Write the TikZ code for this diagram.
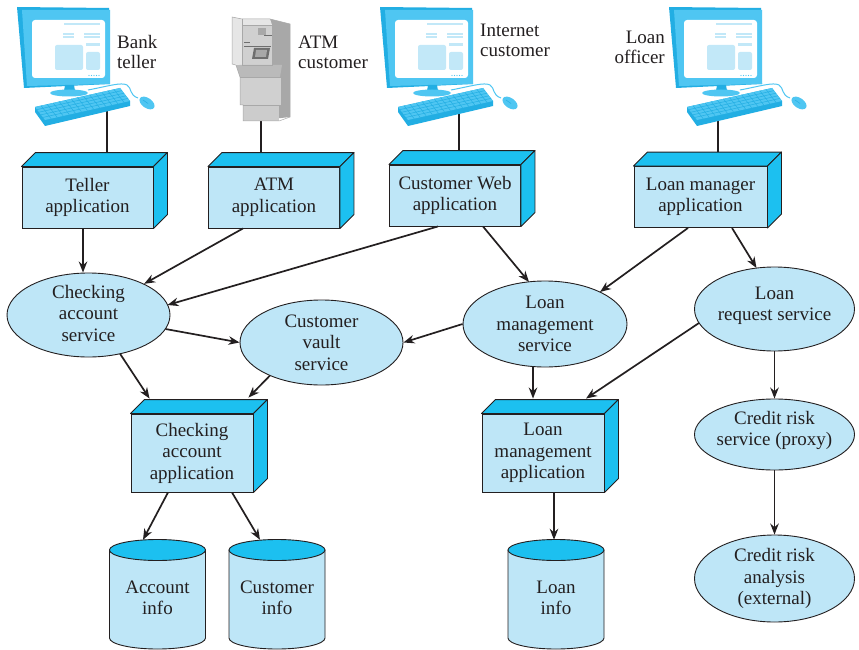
\documentclass[tikz,border=0pt]{standalone}
\usepackage{fontspec}
\setmainfont{Liberation Serif}
\usetikzlibrary{arrows.meta,shapes.geometric,calc}

\definecolor{ink}{HTML}{231F20}
\definecolor{paleblue}{HTML}{BEE6F7}
\definecolor{cyanface}{HTML}{1CC0F0}
\definecolor{pcfront}{HTML}{4FC6F2}
\definecolor{pcside}{HTML}{22AEE3}
\definecolor{pcpale}{HTML}{C2E8F8}
\definecolor{atmlight}{HTML}{E6E6E6}
\definecolor{atmmid}{HTML}{D0D0D0}
\definecolor{atmdark}{HTML}{A8A8A8}
\definecolor{atmdeep}{HTML}{6E6E6E}

\tikzset{
  every node/.style={font=\fontsize{19}{21.5}\selectfont, text=ink},
  appface/.style={draw=ink, fill=paleblue, line width=0.9pt, align=center, inner sep=0pt},
  boxside/.style={draw=ink, fill=cyanface, line width=0.9pt, line join=round},
  svc/.style={ellipse, draw=ink, fill=paleblue, line width=0.9pt, inner sep=0pt},
  lbl/.style={align=center, inner sep=0pt},
  userlbl/.style={inner sep=0pt, font=\fontsize{19}{20}\selectfont},
  flow/.style={draw=ink, line width=1.7pt, -{Stealth[length=11pt,width=8.5pt]}},
  wire/.style={draw=ink, line width=1.7pt},
  keyline/.style={draw=pcside, line width=0.5pt},
}

% application box drawn as a block with top and side faces
\newcommand\appbox[6]{%
  \node[appface, minimum width=#4, minimum height=#5] (#1) at (#2,#3) {#6};
  \path[boxside] (#1.north west) -- ++(14,-14) -- ([shift={(14,-14)}]#1.north east) -- (#1.north east) -- cycle;
  \path[boxside] (#1.north east) -- ([shift={(14,-14)}]#1.north east) -- ([shift={(14,-14)}]#1.south east) -- (#1.south east) -- cycle;
  \coordinate (#1-top) at ([shift={(14,-14)}]#1.north);
}

% database cylinder
\newcommand\dbstore[3]{%
  \path[boxside, fill=paleblue] (#2-48,550) -- (#2-48,638) arc[start angle=180, end angle=0, x radius=48, y radius=11] -- (#2+48,550) -- cycle;
  \path[boxside] (#2,550) ellipse[x radius=48, y radius=10.5];
  \node[lbl, minimum width=96, minimum height=116] (#1) at (#2,598) {#3};
}

% desktop computer with keyboard and mouse
\newcommand\desktop[2]{%
  \begin{scope}[shift={(#1,#2)}]
    \fill[pcside] (0,0) -- (92,1) -- (93,77) -- (7,81) -- cycle;
    \fill[pcfront] (5,3) -- (93,3) -- (93,77) -- (10,79) -- cycle;
    \fill[white, rounded corners=3] (15,13) rectangle (88,71);
    \fill[pcpale] (47,16.5) rectangle (83,18.5);
    \fill[pcpale] (46,26.5) rectangle (57,27.8);
    \fill[pcpale] (46,29.5) rectangle (57,30.8);
    \fill[pcpale] (67,26.5) rectangle (83,27.8);
    \fill[pcpale] (67,29.5) rectangle (83,30.8);
    \fill[pcpale, rounded corners=2] (38,38) rectangle (66,63);
    \fill[pcpale] (69,36) rectangle (83,39.5);
    \fill[pcpale, rounded corners=2] (69,45) rectangle (83,63);
    \foreach \d in {0,...,4} \fill[pcfront] ({72+2.5*\d},68.5) circle (0.6);
    \fill[pcside] (48,78) -- (57,78) -- (58,84) -- (47,84) -- cycle;
    \fill[pcfront] (52,86) ellipse[x radius=19, y radius=3.5];
    \draw[pcfront, line width=1pt] (71,83) .. controls (92,79) and (104,75) .. (110,78) .. controls (115,81) and (112,88) .. (121,91);
    \fill[pcside] (18,100) -- (103,81) -- (113,94) -- (113,99) -- (28,119) -- (18,105) -- cycle;
    \fill[pcfront] (18,100) -- (103,81) -- (113,94) -- (28,113) -- cycle;
    \foreach \v in {0.2,0.4,0.6,0.8}
      \draw[keyline] ({18+10*\v},{100+13*\v}) -- ({103+10*\v},{81+13*\v});
    \foreach \u in {1,...,13}
      \draw[keyline] ({18+85*\u/14},{100-19*\u/14}) -- ({28+85*\u/14},{113-19*\u/14});
    \fill[pcfront, rotate around={-35:(130,96)}] (130,96) ellipse[x radius=8.5, y radius=5];
    \draw[pcside, line width=0.5pt] (126,93) -- (131,96.5);
  \end{scope}
}

\begin{document}
\begin{tikzpicture}[x=1pt, y=-1pt]
\path[use as bounding box, fill=white] (0,0) rectangle (859,650);

% applications
\appbox{tel}{87.5}{197.5}{131}{61}{Teller\\application}
\appbox{atm}{274}{197.5}{131}{61}{ATM\\application}
\appbox{web}{455}{195.5}{131}{61}{Customer Web\\application}
\appbox{lmg}{700.5}{197}{133}{61}{Loan manager\\application}
\appbox{caa}{192}{453}{122}{78}{Checking\\account\\application}
\appbox{lma}{543}{453}{122}{78}{Loan\\management\\application}

% services
\node[svc, minimum width=163, minimum height=84] (cas) at (88.5,315) {};
\node[lbl] (cas-text) at ([shift={(0,-2)}]cas.center) {Checking\\account\\service};
\node[svc, minimum width=163, minimum height=85] (cvs) at (321.5,342.5) {};
\node[lbl] (cvs-text) at (cvs.center) {Customer\\vault\\service};
\node[svc, minimum width=164, minimum height=86] (lms) at (545,324) {};
\node[lbl] (lms-text) at (lms.center) {Loan\\management\\service};
\node[svc, minimum width=160, minimum height=84] (lrs) at (774.5,309) {};
\node[lbl] (lrs-text) at ([shift={(0,-3)}]lrs.center) {Loan\\request service};
\node[svc, minimum width=160, minimum height=71] (crs) at (774.5,434.5) {};
\node[lbl] (crs-text) at ([shift={(0,-4)}]crs.center) {Credit risk\\service (proxy)};
\node[svc, minimum width=160, minimum height=87] (cra) at (774.5,578.5) {};
\node[lbl] (cra-text) at (cra.center) {Credit risk\\analysis\\(external)};

% data stores
\dbstore{acct}{157.5}{Account\\info}
\dbstore{cust}{277}{Customer\\info}
\dbstore{loan}{556}{Loan\\info}

% user terminals and their links
\coordinate (pc-teller) at (107,110);
\coordinate (pc-atm) at (261,118);
\coordinate (pc-web) at (459,110);
\coordinate (pc-loan) at (718,110);
\draw[wire] (pc-teller) -- (pc-teller |- tel-top);
\draw[wire] (pc-atm) -- (pc-atm |- atm-top);
\draw[wire] (pc-web) -- (pc-web |- web-top);
\draw[wire] (pc-loan) -- (pc-loan |- lmg-top);

\desktop{17}{7}
\desktop{380}{7}
\desktop{669}{7}

% cash machine
\fill[atmdark] (270,19) -- (290,24) -- (290,117) -- (272,119) -- cycle;
\fill[atmlight] (232,17) -- (242,19) -- (242,65) -- (232,64) -- cycle;
\fill[atmlight] (242,19) -- (270,19) -- (272,25) -- (242,25) -- cycle;
\fill[atmmid] (242,25) rectangle (272,65);
\fill[atmdark] (258,28) rectangle (266,35);
\draw[atmdeep, line width=0.8pt] (264,35.5) -- (272,35.5);
\draw[atmdeep, line width=0.8pt] (244,42) -- (250,42);
\draw[atmdeep, line width=0.8pt] (244,46) -- (271,46);
\fill[atmdeep] (254,48) -- (270,48) -- (268,59) -- (252,59) -- cycle;
\fill[atmdark] (256,50) -- (267,50) -- (266,57) -- (255,57) -- cycle;
\fill[black!27] (236,65) -- (282,65) -- (280,77) -- (240,77) -- cycle;
\fill[atmmid] (240,77) rectangle (281,105);
\fill[black!20] (243,105) rectangle (279,121);
\draw[atmdark, line width=0.5pt] (232,17) -- (242,19) -- (270,19) -- (290,24) -- (290,117) -- (279,121) -- (243,121) -- (243,105) -- (240,105) -- (240,77) -- (236,65) -- (232,64) -- cycle;
\draw[atmdark, line width=0.5pt] (242,19) -- (242,65) -- (272,65) -- (272,25) -- (242,25);
\draw[atmdark, line width=0.5pt] (240,77) -- (281,77) (243,105) -- (281,105);

% user labels
\node[userlbl, align=left, anchor=west] (lab-teller) at (117,52) {Bank\\teller};
\node[userlbl, align=left, anchor=west] (lab-atm) at (298,52.4) {ATM\\customer};
\node[userlbl, align=left, anchor=west] (lab-web) at (480,40.7) {Internet\\customer};
\node[userlbl, align=right, anchor=east] (lab-loan) at (665,47) {Loan\\officer};

% request flows
\draw[flow] ([xshift=-4.5pt]tel.south) -- ([xshift=-5.5pt]cas.north);
\draw[flow] ([xshift=-31pt]atm.south) -- (cas);
\draw[flow] ([xshift=-17pt]web.south) -- ([shift={(79,-10)}]cas.center);
\draw[flow] ([xshift=28pt]web.south) -- ([shift={(-16,-42)}]lms.center);
\draw[flow] ([xshift=-12.5pt]lmg.south) -- ([shift={(55,-32)}]lms.center);
\draw[flow] ([xshift=31.5pt]lmg.south) -- ([shift={(-18,-41)}]lrs.center);
\draw[flow] ([shift={(77,14)}]cas.center) -- (cvs.west);
\draw[flow] (lms.west) -- (cvs.east);
\draw[flow] ([shift={(31.5,38.7)}]cas.center) -- ([shift={(19,-15)}]caa.north west);
\draw[flow] ([shift={(-51.5,33)}]cvs.center) -- ([shift={(-5,-16)}]caa.north east);
\draw[flow] ([shift={(-12,42.5)}]lms.center) -- ([shift={(-10,-15)}]lma.north);
\draw[flow] ([shift={(-75.5,14)}]lrs.center) -- ([shift={(43,-15)}]lma.north);
\draw[flow] (lrs.south) -- (crs.north);
\draw[flow] (crs.south) -- (cra.north);
\draw[flow] ([xshift=-24pt]caa.south) -- ([xshift=-14.5pt]acct.north);
\draw[flow] ([xshift=40pt]caa.south) -- ([xshift=-17pt]cust.north);
\draw[flow] ([xshift=11pt]lma.south) -- ([xshift=-2pt]loan.north);
\end{tikzpicture}
\end{document}
